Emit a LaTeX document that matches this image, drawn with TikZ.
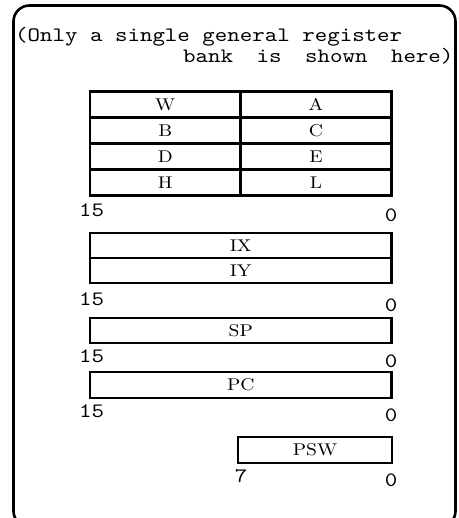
\documentclass[tikz,border=0pt]{standalone}
\usepackage{fontspec}
\newfontfamily\monofont[Extension=.otf,FakeStretch=1.16]{lmmono10-regular}
\newfontfamily\labfont[Extension=.otf,FakeStretch=1.15]{lmroman10-regular}
\begin{document}
\begin{tikzpicture}[x=1pt,y=-1pt,
  frame/.style={draw,line width=2.6pt,rounded corners=16pt},
  cell/.style={draw,line width=2.6pt,inner sep=0pt,minimum height=26pt,
    font=\labfont\fontsize{17}{17}\selectfont},
  bitlab/.style={inner sep=0pt,font=\monofont\fontsize{20.5}{20.5}\selectfont},
  hdr/.style={inner sep=0pt,anchor=base west,font=\monofont\fontsize{20.5}{22}\selectfont}]
\useasboundingbox (0,0) rectangle (458,518);
\clip (0,0) rectangle (458,518);
\draw[frame] (13.5,5.5) rectangle (455.5,527);
% header
\node[hdr] (h1) at (15,42) {(Only a single general register};
\node[hdr] (h2) at (183,63) {\spaceskip=23.5pt bank is shown here)};
% general registers
\node[cell,minimum width=150.5pt] (W) at (165.25,104.5) {W};
\node[cell,minimum width=151pt] (A) at (316,104.5) {A};
\node[cell,minimum width=150.5pt] (B) at (165.25,130.5) {B};
\node[cell,minimum width=151pt] (C) at (316,130.5) {C};
\node[cell,minimum width=150.5pt] (D) at (165.25,156.5) {D};
\node[cell,minimum width=151pt] (E) at (316,156.5) {E};
\node[cell,minimum width=150.5pt] (H) at (165.25,182.5) {H};
\node[cell,minimum width=151pt] (L) at (316,182.5) {L};
\node[bitlab,anchor=west] (t15) at (79,210) {15};
\node[bitlab] (t0) at (391,215) {0};
% index registers
\node[cell,minimum width=301.5pt,minimum height=25pt] (IX) at (240.75,245.5) {IX};
\node[cell,minimum width=301.5pt,minimum height=25pt] (IY) at (240.75,270.5) {IY};
\node[bitlab,anchor=west] (i15) at (79,299) {15};
\node[bitlab] (i0) at (391,305) {0};
% SP
\node[cell,minimum width=301.5pt,minimum height=25pt] (SP) at (240.75,330.5) {SP};
\node[bitlab,anchor=west] (s15) at (79,356) {15};
\node[bitlab] (s0) at (391,361) {0};
% PC
\node[cell,minimum width=301.5pt] (PC) at (240.75,385) {PC};
\node[bitlab,anchor=west] (p15) at (79,411) {15};
\node[bitlab] (p0) at (391,415.5) {0};
% PSW
\node[cell,minimum width=154pt] (PSW) at (315,450) {PSW};
\node[bitlab] (w7) at (241,476) {7};
\node[bitlab] (w0) at (391,480) {0};
\end{tikzpicture}
\end{document}
